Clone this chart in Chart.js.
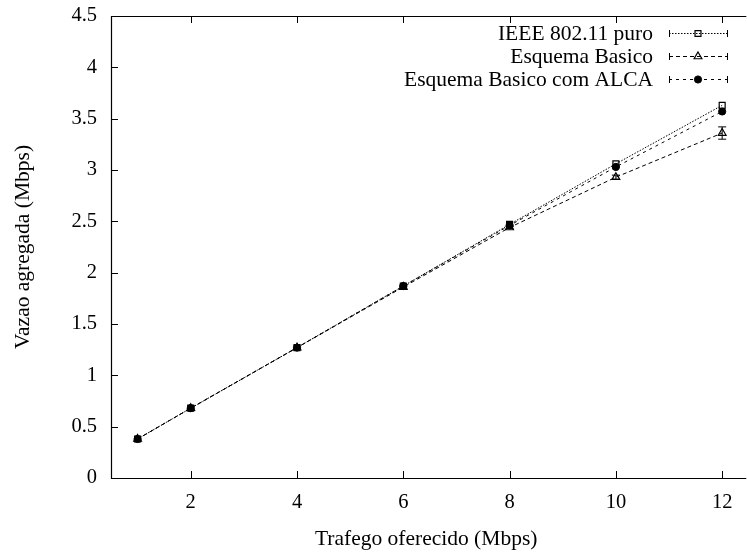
<!DOCTYPE html>
<html>
<head>
<meta charset="utf-8">
<script src="https://cdn.jsdelivr.net/npm/chart.js@4.4.1/dist/chart.umd.min.js"></script>
<style>
  html, body { margin: 0; padding: 0; background: #fff; }
  #wrap { width: 747px; height: 552px; }
</style>
</head>
<body>
<div id="wrap"><canvas id="chart" width="747" height="552"></canvas></div>
<script>
// data
const trafego = [1, 2, 4, 6, 8, 10, 12];
const ieeePuro = [0.38, 0.68, 1.27, 1.87, 2.47, 3.06, 3.63];
const esquemaBasico = [0.38, 0.68, 1.27, 1.86, 2.44, 2.93, 3.36];
const esquemaAlca = [0.38, 0.68, 1.27, 1.87, 2.46, 3.03, 3.57];
const basicoErro = [0, 0, 0, 0.01, 0.01, 0.02, 0.06];
const xTicks = [2, 4, 6, 8, 10, 12];
const yTicks = [0, 0.5, 1, 1.5, 2, 2.5, 3, 3.5, 4, 4.5];

const FONT = '"Liberation Serif", "DejaVu Serif", serif';

function toPoints(ys) {
    return trafego.map((x, i) => ({ x: x, y: ys[i] }));
}

// frame + inward ticks, gnuplot style
const framePlugin = {
    id: 'frame',
    afterDraw(chart) {
        const ctx = chart.ctx;
        const a = chart.chartArea;
        const xs = chart.scales.x, ys = chart.scales.y;
        ctx.save();
        ctx.strokeStyle = '#000';
        ctx.lineWidth = 1.2;
        ctx.setLineDash([]);
        ctx.beginPath();
        ctx.moveTo(a.right + 5, a.top + 0.5);
        ctx.lineTo(a.left + 0.5, a.top + 0.5);
        ctx.lineTo(a.left + 0.5, a.bottom + 0.5);
        ctx.lineTo(a.right + 5, a.bottom + 0.5);
        ctx.stroke();
        ctx.lineWidth = 1;
        ctx.beginPath();
        xTicks.forEach(v => {
            const px = Math.round(xs.getPixelForValue(v)) + 0.5;
            ctx.moveTo(px, a.bottom);
            ctx.lineTo(px, a.bottom - 7);
            ctx.moveTo(px, a.top);
            ctx.lineTo(px, a.top + 7);
        });
        yTicks.forEach(v => {
            const py = Math.round(ys.getPixelForValue(v)) + 0.5;
            ctx.moveTo(a.left, py);
            ctx.lineTo(a.left + 7, py);
        });
        ctx.stroke();
        ctx.restore();
    }
};

// error bars for datasets carrying an err array
const errorPlugin = {
    id: 'errbars',
    afterDatasetsDraw(chart) {
        const ctx = chart.ctx;
        const xs = chart.scales.x, ys = chart.scales.y;
        ctx.save();
        ctx.strokeStyle = '#000';
        ctx.lineWidth = 1;
        ctx.setLineDash([]);
        chart.data.datasets.forEach(ds => {
            if (!ds.err) return;
            ds.data.forEach((p, i) => {
                const e = ds.err[i];
                if (!e) return;
                const px = xs.getPixelForValue(p.x);
                const y1 = ys.getPixelForValue(p.y - e);
                const y2 = ys.getPixelForValue(p.y + e);
                ctx.beginPath();
                ctx.moveTo(px, y1); ctx.lineTo(px, y2);
                ctx.moveTo(px - 4, y1); ctx.lineTo(px + 4, y1);
                ctx.moveTo(px - 4, y2); ctx.lineTo(px + 4, y2);
                ctx.stroke();
            });
        });
        ctx.restore();
    }
};

// legend: text right aligned, sample on the right
const keyPlugin = {
    id: 'key',
    afterDraw(chart) {
        const ctx = chart.ctx;
        ctx.save();
        chart.data.datasets.forEach((ds, i) => {
            const y = 33 + i * 23;
            ctx.font = '21.5px ' + FONT;
            ctx.fillStyle = '#000';
            ctx.textAlign = 'right';
            ctx.textBaseline = 'middle';
            ctx.fillText(ds.label, 653, y + 1);
            ctx.strokeStyle = '#000';
            ctx.lineWidth = 1;
            ctx.setLineDash(ds.borderDash);
            ctx.beginPath();
            ctx.moveTo(669, y + 0.5); ctx.lineTo(728, y + 0.5);
            ctx.stroke();
            ctx.setLineDash([]);
            ctx.beginPath();
            ctx.moveTo(669.5, y - 3); ctx.lineTo(669.5, y + 4);
            ctx.moveTo(727.5, y - 3); ctx.lineTo(727.5, y + 4);
            ctx.stroke();
            ctx.fillStyle = ds.pointBackgroundColor;
            ctx.lineWidth = ds.pointBorderWidth;
            Chart.helpers.drawPoint(ctx, {
                pointStyle: ds.pointStyle,
                radius: ds.pointRadius,
                borderWidth: ds.pointBorderWidth
            }, 698, y + 0.5);
        });
        ctx.restore();
    }
};

new Chart(document.getElementById('chart'), {
    type: 'line',
    data: {
        datasets: [{
            label: 'IEEE 802.11 puro',
            data: toPoints(ieeePuro),
            borderColor: '#000',
            borderWidth: 1,
            borderDash: [1.5, 1.5],
            pointStyle: 'rect',
            pointRadius: 4.2,
            pointBorderWidth: 1.2,
            pointBorderColor: '#000',
            pointBackgroundColor: 'rgba(255,255,255,0)'
        }, {
            label: 'Esquema Basico',
            data: toPoints(esquemaBasico),
            err: basicoErro,
            borderColor: '#000',
            borderWidth: 1,
            borderDash: [4, 3],
            pointStyle: 'triangle',
            pointRadius: 4.5,
            pointBorderWidth: 1.2,
            pointBorderColor: '#000',
            pointBackgroundColor: 'rgba(255,255,255,0)'
        }, {
            label: 'Esquema Basico com ALCA',
            data: toPoints(esquemaAlca),
            borderColor: '#000',
            borderWidth: 1,
            borderDash: [3, 4],
            pointStyle: 'circle',
            pointRadius: 3.6,
            pointBorderWidth: 1,
            pointBorderColor: '#000',
            pointBackgroundColor: '#000'
        }]
    },
    options: {
        responsive: false,
        animation: false,
        layout: { padding: { top: 16, right: 0, left: 0, bottom: 0 } },
        plugins: {
            legend: { display: false },
            tooltip: { enabled: false }
        },
        scales: {
            x: {
                type: 'linear',
                min: 0.5,
                max: 12.36,
                afterBuildTicks: s => { s.ticks = xTicks.map(v => ({ value: v })); },
                afterFit: s => { s.height = 74; s.paddingLeft = 0; s.paddingRight = 0; },
                grid: { display: false, drawTicks: false },
                border: { display: false },
                ticks: {
                    color: '#000',
                    padding: 12,
                    maxRotation: 0,
                    font: { family: FONT, size: 20.5 }
                },
                title: {
                    display: true,
                    text: 'Trafego oferecido (Mbps)',
                    color: '#000',
                    padding: { top: 8, bottom: 0 },
                    font: { family: FONT, size: 21.5 }
                }
            },
            y: {
                type: 'linear',
                min: 0,
                max: 4.5,
                afterBuildTicks: s => { s.ticks = yTicks.map(v => ({ value: v })); },
                afterFit: s => { s.width = 111; s.paddingTop = 0; s.paddingBottom = 0; },
                grid: { display: false, drawTicks: false },
                border: { display: false },
                ticks: {
                    color: '#000',
                    padding: 14,
                    font: { family: FONT, size: 20.5 },
                    callback: v => String(v)
                },
                title: {
                    display: true,
                    text: 'Vazao agregada (Mbps)',
                    color: '#000',
                    padding: { top: 10, bottom: 0 },
                    font: { family: FONT, size: 21.5 }
                }
            }
        }
    },
    plugins: [framePlugin, errorPlugin, keyPlugin]
});
</script>
</body>
</html>
